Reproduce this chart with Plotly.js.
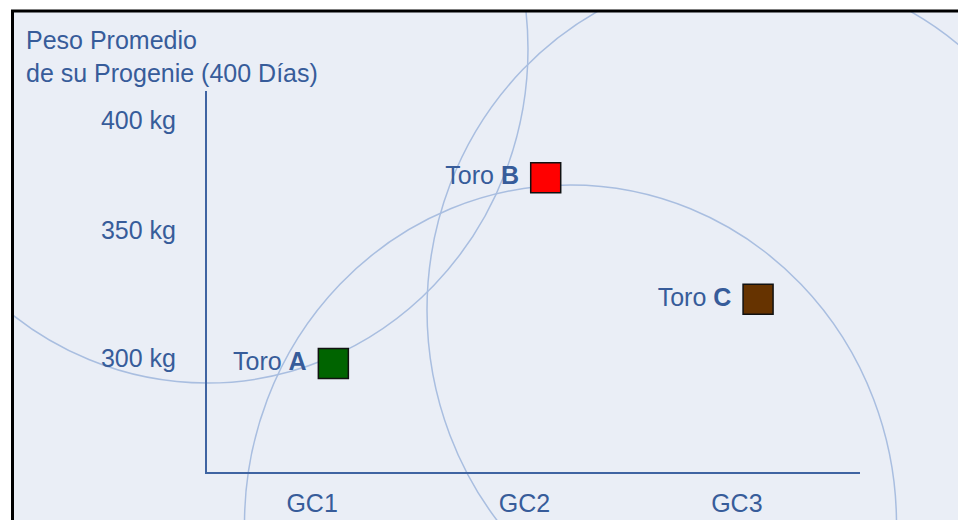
<!DOCTYPE html>
<html>
<head>
<meta charset="utf-8">
<script src="https://cdn.plot.ly/plotly-3.0.1.min.js"></script>
<style>
  html, body { margin: 0; padding: 0; background: #ffffff; }
  #chart { width: 958px; height: 520px; }
</style>
</head>
<body>
<div id="chart"></div>
<script>
// ---- data ----
const categories = ['GC1', 'GC2', 'GC3'];
const categoryPos = [1, 2, 3];
const bulls = ['A', 'B', 'C'];
const bullX = [1.1, 2.1, 3.1];
const bullWeight = [298, 373, 322];
const yTickVals = [300, 350, 400];
const yTickText = ['300 kg', '350 kg', '400 kg'];
const axisTitle = 'Peso Promedio<br>de su Progenie (400 Días)';

// ---- styles ----
const FONT = '"Liberation Sans", Arial, sans-serif';
const TXT = '#375c9a';
const LINE = '#3f64a2';
const CIRC = '#a9bee0';
const BG = '#eaeef6';
const FS = 25;

const W = 958, H = 520, ML = 14, MT = 12;
const PW = W - ML, PH = H - MT;
const px = v => (v - ML) / PW;          // pixel x -> paper x
const py = v => (H - v) / PH;           // pixel y -> paper y

const trace = {
  type: 'scatter',
  mode: 'markers+text',
  x: bullX,
  y: bullWeight,
  xaxis: 'x2',
  yaxis: 'y2',
  text: bulls.map(b => 'Toro <b>' + b + '</b>\u00a0'),
  textposition: 'middle left',
  textfont: { family: FONT, size: FS, color: TXT },
  marker: {
    symbol: 'square',
    size: 30,
    color: ['#006400', '#ff0000', '#663300'],
    line: { color: '#111111', width: 1.5 }
  },
  hoverinfo: 'skip',
  cliponaxis: false,
  showlegend: false
};

// invisible full-area trace to establish the decorative subplot
const deco = {
  type: 'scatter', mode: 'markers', x: [], y: [],
  xaxis: 'x', yaxis: 'y', hoverinfo: 'skip', showlegend: false
};

const layout = {
  width: W, height: H,
  margin: { l: ML, r: 0, t: MT, b: 0, pad: 0 },
  paper_bgcolor: '#ffffff',
  plot_bgcolor: 'rgba(0,0,0,0)',
  font: { family: FONT, size: FS, color: TXT },
  showlegend: false,
  xaxis: { domain: [0, 1], range: [ML, W], visible: false, fixedrange: true },
  yaxis: { domain: [0, 1], range: [H, MT], visible: false, fixedrange: true },
  xaxis2: {
    domain: [px(207), px(860)],
    anchor: 'y2',
    range: [0.505, 3.58],
    showgrid: false, zeroline: false,
    showline: true, linecolor: LINE, linewidth: 2,
    tickmode: 'array', tickvals: categoryPos, ticktext: categories,
    ticks: 'outside', ticklen: 8, tickcolor: 'rgba(0,0,0,0)',
    tickfont: { family: FONT, size: FS, color: TXT },
    fixedrange: true
  },
  yaxis2: {
    domain: [py(472), py(91)],
    anchor: 'x2',
    type: 'log',
    range: [2.4172, 2.6172],
    showgrid: false, zeroline: false,
    showline: true, linecolor: LINE, linewidth: 2,
    tickmode: 'array', tickvals: yTickVals, ticktext: yTickText,
    ticks: 'outside', ticklen: 24, tickcolor: 'rgba(0,0,0,0)',
    tickfont: { family: FONT, size: FS, color: TXT },
    fixedrange: true
  },
  shapes: [
    { type: 'rect', xref: 'paper', yref: 'paper', x0: 0, x1: 1, y0: 0, y1: 1,
      fillcolor: BG, line: { width: 0 }, layer: 'below' },
    { type: 'circle', xref: 'x', yref: 'y', x0: -114, x1: 528, y0: -285, y1: 383,
      line: { color: CIRC, width: 1.5 }, layer: 'below' },
    { type: 'circle', xref: 'x', yref: 'y', x0: 244.5, x1: 896.5, y0: 185, y1: 863,
      line: { color: CIRC, width: 1.5 }, layer: 'below' },
    { type: 'circle', xref: 'x', yref: 'y', x0: 427, x1: 1081, y0: -30, y1: 650,
      line: { color: CIRC, width: 1.5 }, layer: 'below' },
    { type: 'rect', xref: 'paper', yref: 'paper',
      x0: px(12.5), x1: 1.2, y0: -0.2, y1: py(11),
      fillcolor: 'rgba(0,0,0,0)', line: { color: '#000000', width: 3 }, layer: 'above' }
  ],
  annotations: [
    { xref: 'paper', yref: 'paper', x: px(24), y: py(57),
      xanchor: 'left', yanchor: 'middle', align: 'left',
      text: axisTitle, showarrow: false,
      font: { family: FONT, size: FS, color: TXT } }
  ]
};

Plotly.newPlot('chart', [deco, trace], layout, { displayModeBar: false, staticPlot: true });
</script>
</body>
</html>
